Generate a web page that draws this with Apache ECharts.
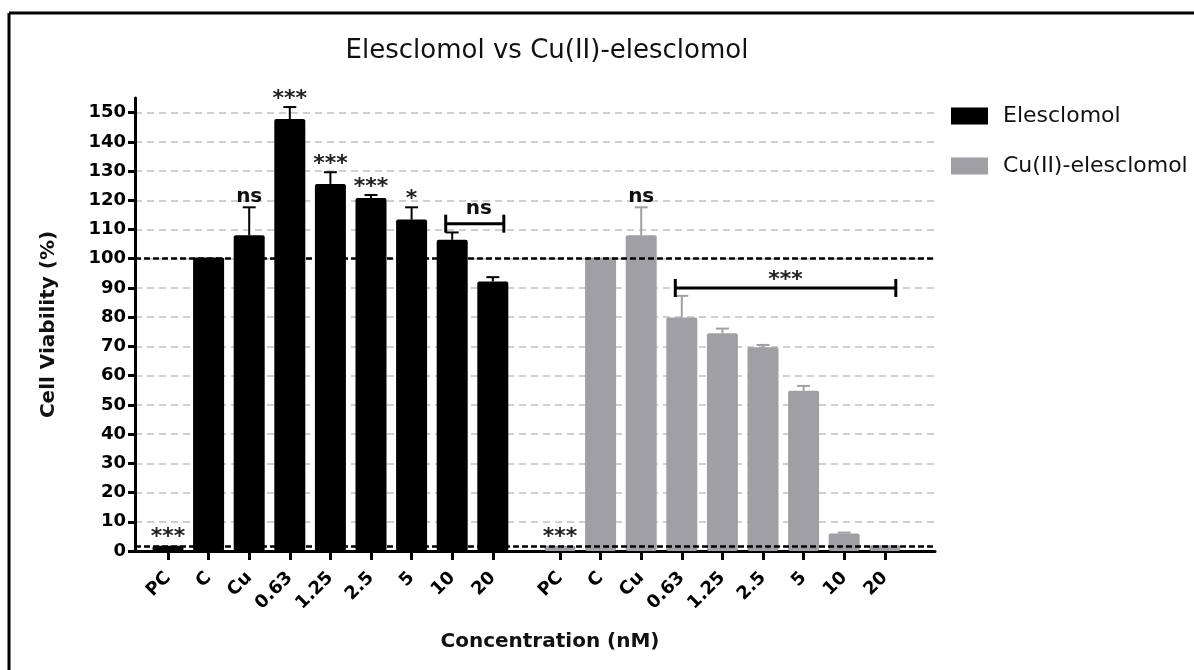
<!DOCTYPE html>
<html>
<head>
<meta charset="utf-8">
<script src="https://cdn.jsdelivr.net/npm/echarts@6/dist/echarts.min.js"></script>
<style>
html,body{margin:0;padding:0;background:#ffffff;}
#chart{width:1194px;height:670px;}
</style>
</head>
<body>
<div id="chart"></div>
<script>
// ---------- data ----------
const categories = ['PC', 'C', 'Cu', '0.63', '1.25', '2.5', '5', '10', '20'];
const elesclomolValues = [1.8, 100.4, 108, 147.8, 125.6, 120.8, 113.4, 106.5, 92.2];
const elesclomolErrors = [0, 0, 9.6, 4.1, 4.0, 1.0, 4.2, 2.5, 1.5];
const cuElesclomolValues = [1.8, 100.4, 108, 79.9, 74.5, 69.7, 54.8, 6.0, 2.0];
const cuElesclomolErrors = [0, 0, 9.6, 7.4, 1.6, 0.8, 1.7, 0.3, 0];
const elesclomolMarks = ['***', '', 'ns', '***', '***', '***', '*', '', ''];
const cuElesclomolMarks = ['***', '', 'ns', '', '', '', '', '', ''];
const elesclomolBracket = [7, 8, 112, 'ns'];
const cuElesclomolBracket = [3, 8, 90, '***'];
const referenceLines = [100, 1.5];
const yTicks = [0, 10, 20, 30, 40, 50, 60, 70, 80, 90, 100, 110, 120, 130, 140, 150];
const seriesNames = ['Elesclomol', 'Cu(II)-elesclomol'];
const chartTitle = 'Elesclomol vs Cu(II)-elesclomol';
const xAxisName = 'Concentration (nM)';
const yAxisName = 'Cell Viability (%)';

// ---------- styles ----------
const FONT = 'DejaVu Sans';
const BLACK = '#000000';
const GRAY = '#a0a0a4';
const Y_MAX = 155;

function errorData(values, errors) {
  return values.map((v, i) => [i, v, v + errors[i]]);
}

function errorBarRenderer(color) {
  return function (params, api) {
    const i = api.value(0), v = api.value(1), t = api.value(2);
    if (!(t > v)) return null;
    const base = api.coord([i, v]);
    const top = api.coord([i, t]);
    const half = 6.5;
    return {
      type: 'group',
      children: [
        { type: 'line', shape: { x1: base[0], y1: base[1], x2: top[0], y2: top[1] }, style: { stroke: color, lineWidth: 2 } },
        { type: 'line', shape: { x1: top[0] - half, y1: top[1], x2: top[0] + half, y2: top[1] }, style: { stroke: color, lineWidth: 2 } }
      ]
    };
  };
}

function textStyleFor(text) {
  const isStar = text.indexOf('*') >= 0;
  return {
    text: text,
    fontFamily: FONT,
    fontSize: isStar ? 22 : 20,
    fontWeight: 'bold',
    fill: isStar ? '#222222' : '#111111',
    align: 'center',
    verticalAlign: 'bottom'
  };
}

function markRenderer(marks) {
  return function (params, api) {
    const text = marks[params.dataIndex];
    if (!text) return null;
    const p = api.coord([api.value(0), api.value(2)]);
    const isStar = text.indexOf('*') >= 0;
    return { type: 'text', x: p[0], y: p[1] + (isStar ? 3 : -1), style: textStyleFor(text) };
  };
}

function bracketRenderer(params, api) {
  const y = api.value(2);
  const a = api.coord([api.value(0), y]);
  const c = api.coord([api.value(1), y]);
  const x1 = a[0] - 6.5, x2 = c[0] + 11;
  const yy = a[1];
  const text = params.seriesId === 'bracket1' ? elesclomolBracket[3] : cuElesclomolBracket[3];
  const isStar = text.indexOf('*') >= 0;
  const st = { stroke: BLACK, lineWidth: 3 };
  return {
    type: 'group',
    children: [
      { type: 'line', shape: { x1: x1, y1: yy, x2: x2, y2: yy }, style: st },
      { type: 'line', shape: { x1: x1, y1: yy - 9, x2: x1, y2: yy + 9 }, style: st },
      { type: 'line', shape: { x1: x2, y1: yy - 9, x2: x2, y2: yy + 9 }, style: st },
      { type: 'text', x: (x1 + x2) / 2 + (isStar ? 0 : 4), y: yy + (isStar ? 3 : -5), style: textStyleFor(text) }
    ]
  };
}

const catAxisBase = {
  type: 'category',
  data: categories,
  axisLine: { show: false },
  axisTick: { show: true, alignWithLabel: true, length: 9, lineStyle: { color: BLACK, width: 3 } },
  axisLabel: { interval: 0, rotate: 45, margin: 24, fontFamily: FONT, fontSize: 18, fontWeight: 'bold', color: BLACK },
  splitLine: { show: false }
};

const hiddenY = { type: 'value', min: 0, max: Y_MAX, show: false };

const chart = echarts.init(document.getElementById('chart'), null, { renderer: 'canvas' });

const option = {
  animation: false,
  backgroundColor: '#ffffff',
  grid: [
    { left: 135, top: 98, width: 800, height: 453, containLabel: false },
    { left: 147.7, top: 98, width: 365.4, height: 453, containLabel: false },
    { left: 539.7, top: 98, width: 365.4, height: 453, containLabel: false }
  ],
  xAxis: [
    {
      gridIndex: 0, type: 'value', min: 0, max: 1,
      axisLine: { show: true, lineStyle: { color: BLACK, width: 3 } },
      axisTick: { show: false }, axisLabel: { show: false }, splitLine: { show: false },
      name: xAxisName, nameLocation: 'middle', nameGap: 81,
      nameTextStyle: { fontFamily: FONT, fontSize: 20, fontWeight: 'bold', color: '#111111', padding: [0, 0, 0, 30] }
    },
    Object.assign({ gridIndex: 1 }, catAxisBase),
    Object.assign({ gridIndex: 2 }, catAxisBase)
  ],
  yAxis: [
    {
      gridIndex: 0, type: 'value', min: 0, max: Y_MAX, interval: 10,
      axisLine: { show: true, lineStyle: { color: BLACK, width: 3 } },
      axisTick: { show: true, length: 7, lineStyle: { color: BLACK, width: 3 }, customValues: yTicks },
      axisLabel: { margin: 9, fontFamily: FONT, fontSize: 18, fontWeight: 'bold', color: BLACK, customValues: yTicks },
      splitLine: { show: true, lineStyle: { color: '#cfcfcf', width: 2, type: [7, 5] } },
      name: yAxisName, nameLocation: 'middle', nameGap: 76,
      nameTextStyle: { fontFamily: FONT, fontSize: 20, fontWeight: 'bold', color: '#111111' }
    },
    Object.assign({ gridIndex: 1 }, hiddenY),
    Object.assign({ gridIndex: 2 }, hiddenY)
  ],
  legend: {
    data: seriesNames,
    orient: 'vertical',
    left: 946, top: 100,
    icon: 'rect',
    itemWidth: 37, itemHeight: 17,
    itemGap: 28,
    textStyle: { fontFamily: FONT, fontSize: 22, color: '#111111', padding: [0, 0, 0, 10] },
    selectedMode: false
  },
  graphic: [
    { type: 'line', shape: { x1: 9, y1: 13, x2: 1194, y2: 13 }, style: { stroke: BLACK, lineWidth: 3 } },
    { type: 'line', shape: { x1: 9, y1: 13, x2: 9, y2: 670 }, style: { stroke: BLACK, lineWidth: 3 } },
    {
      type: 'text', x: 547, y: 51,
      style: { text: chartTitle, fontFamily: FONT, fontSize: 26, fill: '#111111', align: 'center', verticalAlign: 'middle' }
    }
  ],
  series: [
    {
      name: 'reference', type: 'line', xAxisIndex: 0, yAxisIndex: 0, data: [], z: 1,
      markLine: {
        silent: true, symbol: 'none', label: { show: false },
        lineStyle: { color: BLACK, width: 2.5, type: [6, 3] },
        data: referenceLines.map(v => ({ yAxis: v }))
      }
    },
    {
      name: seriesNames[0], type: 'bar', xAxisIndex: 1, yAxisIndex: 1, data: elesclomolValues,
      barWidth: 31, itemStyle: { color: BLACK, borderRadius: 2 }, z: 3
    },
    {
      name: seriesNames[1], type: 'bar', xAxisIndex: 2, yAxisIndex: 2, data: cuElesclomolValues,
      barWidth: 31, itemStyle: { color: GRAY, borderRadius: 2 }, z: 3
    },
    {
      type: 'custom', xAxisIndex: 1, yAxisIndex: 1, z: 4, silent: true,
      data: errorData(elesclomolValues, elesclomolErrors), renderItem: errorBarRenderer(BLACK)
    },
    {
      type: 'custom', xAxisIndex: 2, yAxisIndex: 2, z: 4, silent: true,
      data: errorData(cuElesclomolValues, cuElesclomolErrors), renderItem: errorBarRenderer(GRAY)
    },
    {
      type: 'custom', xAxisIndex: 1, yAxisIndex: 1, z: 5, silent: true,
      data: errorData(elesclomolValues, elesclomolErrors), renderItem: markRenderer(elesclomolMarks)
    },
    {
      type: 'custom', xAxisIndex: 2, yAxisIndex: 2, z: 5, silent: true,
      data: errorData(cuElesclomolValues, cuElesclomolErrors), renderItem: markRenderer(cuElesclomolMarks)
    },
    {
      id: 'bracket1', type: 'custom', xAxisIndex: 1, yAxisIndex: 1, z: 5, silent: true,
      data: [elesclomolBracket.slice(0, 3)], renderItem: bracketRenderer
    },
    {
      id: 'bracket2', type: 'custom', xAxisIndex: 2, yAxisIndex: 2, z: 5, silent: true,
      data: [cuElesclomolBracket.slice(0, 3)], renderItem: bracketRenderer
    }
  ]
};

chart.setOption(option);
</script>
</body>
</html>
